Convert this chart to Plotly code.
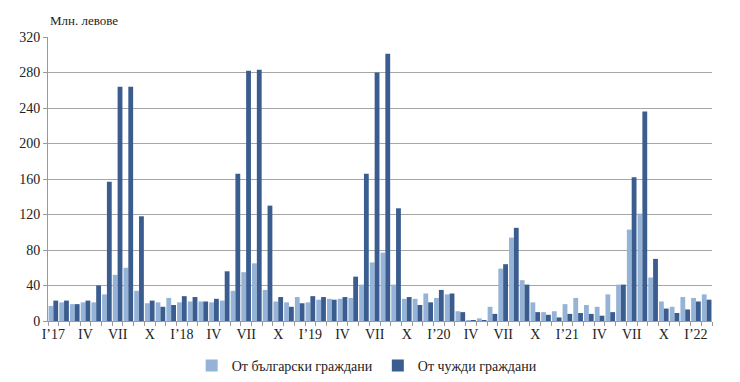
import plotly.graph_objects as go

roman = ["I", "II", "III", "IV", "V", "VI", "VII", "VIII", "IX", "X", "XI", "XII"]
years = ["17", "18", "19", "20", "21", "22"]
months = [f"{r}'{y}" for y in years for r in roman][:62]

bulgarian = [17, 21, 19, 21, 21, 30, 52, 60, 34, 20, 21, 26,
             21, 22, 22, 21, 23, 34, 55, 65, 35, 22, 21, 27,
             21, 24, 25, 25, 26, 41, 66, 77, 41, 25, 25, 31,
             26, 30, 11, 1, 3, 16, 59, 94, 46, 21, 10, 11,
             19, 26, 18, 16, 30, 41, 103, 121, 49, 22, 16, 27,
             26, 30]
foreign = [23, 23, 19, 23, 40, 157, 264, 264, 118, 23, 16, 18,
           28, 27, 22, 25, 56, 166, 282, 283, 130, 27, 16, 20,
           28, 27, 24, 27, 50, 166, 280, 301, 127, 27, 18, 21,
           35, 31, 10, 1, 1, 8, 64, 105, 41, 10, 7, 4,
           8, 9, 8, 6, 10, 41, 162, 236, 70, 14, 9, 13,
           22, 24]

ticktext = []
for i, m in enumerate(months):
    if i % 3 == 0:
        r, y = m.split("'")
        ticktext.append(f"I\u2019{y}" if r == "I" else r)
    else:
        ticktext.append("")

serif = "Liberation Serif, DejaVu Serif, serif"

fig = go.Figure()
fig.add_bar(x=months, y=bulgarian, name="От български граждани",
            marker=dict(color="#95B3D7", line=dict(width=0)))
fig.add_bar(x=months, y=foreign, name="От чужди граждани",
            marker=dict(color="#3A5C8E", line=dict(width=0)))

fig.update_layout(
    width=732, height=374,
    margin=dict(l=40, r=28, t=29, b=61, autoexpand=False),
    paper_bgcolor="white", plot_bgcolor="white",
    barmode="group", bargap=0.1, bargroupgap=0.0,
    font=dict(family=serif, size=14, color="#222"),
    showlegend=True,
    legend=dict(orientation="h", x=0.49, xref="container", xanchor="center",
                y=0.043, yref="container", yanchor="middle",
                font=dict(family=serif, size=14, color="#222"),
                itemwidth=30, traceorder="normal"),
    annotations=[dict(text="Млн. левове", x=0, xref="paper", xanchor="left",
                      y=1, yref="paper", yanchor="bottom", yshift=7,
                      showarrow=False, font=dict(family=serif, size=13, color="#222"))],
)
fig.update_xaxes(type="category", tickmode="array", tickvals=months, ticktext=ticktext,
                 tickson="boundaries", ticks="outside", ticklen=4, tickcolor="#999",
                 showline=True, linecolor="#999", linewidth=1,
                 showgrid=False, tickangle=0,
                 tickfont=dict(family=serif, size=14, color="#222"))
fig.update_yaxes(range=[0, 320], dtick=40, tick0=0,
                 showgrid=True, gridcolor="#A6A6A6", gridwidth=1,
                 showline=True, linecolor="#999", linewidth=1,
                 ticks="outside", ticklen=4, tickcolor="#999",
                 zeroline=False,
                 tickfont=dict(family=serif, size=14, color="#222"))

fig.write_html("out.html")
